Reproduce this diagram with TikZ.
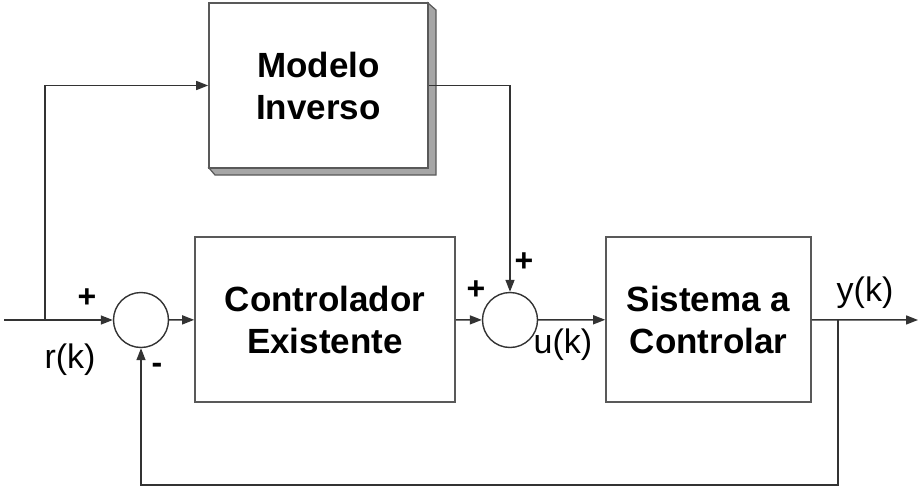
\documentclass[tikz,border=0pt]{standalone}
\usepackage{fontspec}
\setmainfont{Liberation Sans}
\usepackage{tikz}
\usetikzlibrary{arrows.meta,positioning,calc}

\begin{document}
\begin{tikzpicture}[
    x=1pt, y=-1pt,
    blk/.style={draw=black!65, line width=1.6pt, fill=white, minimum height=165pt, align=center, font=\fontsize{35}{42}\selectfont\bfseries, inner sep=0pt},
    sumc/.style={draw=black!80, line width=1.4pt, circle, minimum size=55pt, inner sep=0pt},
    arr/.style={-{Triangle[length=12pt,width=9pt]}, line width=1.5pt, draw=black!80},
    lbl/.style={font=\fontsize{34}{40}\selectfont, inner sep=0pt},
    sgn/.style={font=\fontsize{32}{36}\selectfont\bfseries, inner sep=0pt}
]
\useasboundingbox (0,0) rectangle (923,495);

% bloco com sombra
\filldraw[fill=black!35, draw=black!65, line width=1.2pt]
    (428,3) -- (436,10) -- (436,175) -- (215,175) -- (209,168) -- (428,168) -- cycle;
\node[blk, minimum width=219pt] (modelo) at (318.5,85.5) {Modelo\\Inverso};
\node[blk, minimum width=260pt] (ctrl) at (325,319.5) {Controlador\\Existente};
\node[blk, minimum width=205pt] (sis) at (708.5,319.5) {Sistema a\\Controlar};

\node[sumc] (s1) at (141,320) {};
\node[sumc] (s2) at (510,320) {};

\coordinate (in) at (4,320);
\coordinate (br) at (45,320);
\coordinate (fb) at (838,320);
\coordinate (out) at (918,320);
\coordinate (bot) at (838,485);

\draw[arr] (in) -- (s1);
\draw[arr] (br) |- (modelo.west);
\draw[arr] (modelo.east) -| (s2.north);
\draw[arr] (s1) -- (ctrl);
\draw[arr] (ctrl) -- (s2);
\draw[arr] (s2) -- (sis);
\draw[arr] (sis) -- (out);
\draw[arr] (fb) -- (bot) -| (s1.south);

\node[sgn] (p1) at (87,298) {+};
\node[sgn] (m1) at (157,368) {-};
\node[sgn] (p2) at (476,290) {+};
\node[sgn] (p3) at (524,262) {+};
\node[lbl] (r) at (70,360) {r(k)};
\node[lbl] (u) at (563,345) {u(k)};
\node[lbl] (y) at (865,293) {y(k)};
\end{tikzpicture}
\end{document}
